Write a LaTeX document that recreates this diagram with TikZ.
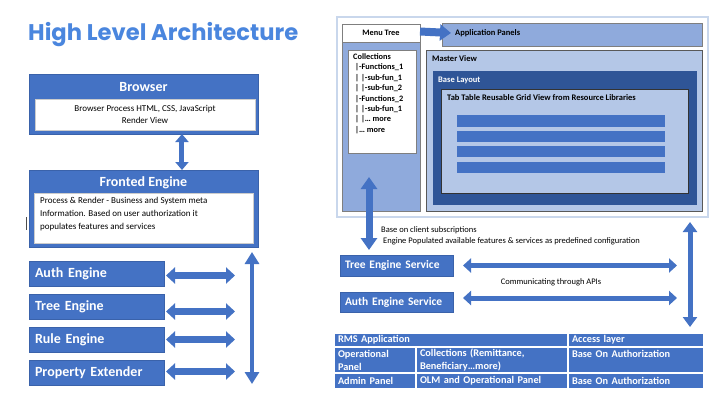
\documentclass[tikz,border=0pt]{standalone}
\usepackage{fontspec}
\setmainfont{Carlito}
\newfontfamily\titlefont{Poppins}
\usetikzlibrary{arrows.meta,calc}
\definecolor{mblue}{HTML}{4472C4}
\definecolor{mbluedk}{HTML}{3A62AA}
\definecolor{colblue}{HTML}{8FAADC}
\definecolor{lightblue}{HTML}{B4C7E7}
\definecolor{darkblue}{HTML}{2F5597}
\definecolor{titleblue}{HTML}{4A86DE}
\definecolor{framegray}{HTML}{C9D7EC}
\definecolor{edgegray}{HTML}{7F7F7F}
\tikzset{
  sz/.style 2 args={anchor=north west, inner sep=0pt, outer sep=0pt, minimum width=#1pt, minimum height=#2pt},
  bluebox/.style={fill=mblue, draw=mbluedk, line width=0.6pt},
  hdr/.style={inner sep=0pt, text=white, font=\bfseries\fontsize{14}{16}\selectfont},
  engbox/.style={anchor=north west, outer sep=0pt, fill=mblue, draw=mbluedk, line width=0.5pt, inner xsep=6pt, inner ysep=0pt, text width=123pt, minimum height=25pt, align=left, text=white, font=\bfseries\fontsize{14}{16}\selectfont},
  svcbox/.style={anchor=north west, outer sep=0pt, fill=mblue, draw=mbluedk, line width=0.5pt, inner xsep=5pt, inner ysep=0pt, text width=103pt, align=left, text=white, font=\bfseries\fontsize{11.5}{13}\selectfont},
  small/.style={inner sep=0pt, anchor=west, font=\bfseries\fontsize{8.5}{10}\selectfont},
  note/.style={inner sep=0pt, anchor=west, font=\fontsize{8.5}{10}\selectfont},
  cell/.style={anchor=north west, outer sep=0pt, fill=mblue, draw=white, line width=1.2pt, text=white, font=\bfseries\fontsize{10.3}{13}\selectfont, align=left, inner xsep=4pt, inner ysep=0pt},
  dbl/.style n args={3}{draw=mblue, line width=#1pt, {Triangle[width=#2pt,length=#3pt]}-{Triangle[width=#2pt,length=#3pt]}},
  sgl/.style n args={3}{draw=mblue, line width=#1pt, -{Triangle[width=#2pt,length=#3pt]}},
}
\begin{document}
\begin{tikzpicture}[x=1pt,y=-1pt]
\useasboundingbox[fill=white] (0,0) rectangle (720,405);

% ---------- title ----------
\node[anchor=west, inner sep=0pt, text=titleblue] (title) at (28,35)
  {\resizebox{270pt}{!}{\titlefont\bfseries\fontsize{26}{30}\selectfont High Level Architecture}};

% ---------- left side ----------
\node[sz={229}{60}, bluebox] (browser) at (29,74) {};
\node[hdr] (browserhdr) at (143.5,87) {Browser};
\node[sz={220}{31}, fill=white, draw=gray!40, align=center, font=\fontsize{9}{12}\selectfont] (browserbody) at (35,99)
  {Browser Process HTML, CSS, JavaScript\\Render View};

\node[sz={229}{77}, bluebox] (fronted) at (29,170) {};
\node[hdr] (frontedhdr) at (143.5,183) {Fronted Engine};
\node[sz={219}{50}, fill=white, draw=gray!40] (frontedbody) at (34,193) {};
\node[anchor=north west, inner sep=0pt, align=left, font=\fontsize{9}{13}\selectfont] (frontedtxt) at (40,197)
  {Process \& Render - Business and System meta\\Information. Based on user authorization it\\populates features and services};
\draw[black!70, line width=0.7pt] (26.5,217) -- (26.5,230);

\draw[dbl={5}{13}{8}] ($(browser.south west)!0.668!(browser.south east)$) -- ($(fronted.north west)!0.668!(fronted.north east)$);

\node[engbox] (auth) at (29,261) {Auth Engine};
\node[engbox] (tree) at (29,294) {Tree Engine};
\node[engbox] (rule) at (29,327) {Rule Engine};
\node[engbox] (prop) at (29,360) {Property Extender};

\coordinate (lhx) at (233,0);
\draw[dbl={7}{16}{9}] ([xshift=2pt,yshift=-2pt]auth.east) -- ([xshift=2pt,yshift=-2pt]auth.east -| lhx);
\draw[dbl={7}{16}{9}] ([xshift=2pt,yshift=-5pt]tree.east) -- ([xshift=2pt,yshift=-5pt]tree.east -| lhx);
\draw[dbl={7}{16}{9}] ([xshift=2pt]rule.east) -- ([xshift=2pt]rule.east -| lhx);
\draw[dbl={7}{16}{9}] ([xshift=2pt,yshift=1pt]prop.east) -- ([xshift=2pt,yshift=1pt]prop.east -| lhx);

\coordinate (lvtop) at (252,252);
\coordinate (lvbot) at (252,384);
\draw[dbl={4}{14}{12}] (lvtop) -- (lvbot);

% ---------- right side: UI mock ----------
\node[sz={371}{200}, fill=white, draw=framegray, line width=1.5pt] (frame) at (337,17) {};
\node[sz={78}{169}, fill=colblue, draw=edgegray, line width=0.5pt] (col) at (342,42) {};
\node[sz={78}{18}, fill=white, draw=edgegray, line width=0.5pt, font=\bfseries\fontsize{8.3}{9}\selectfont] (menutree) at (342,24) {Menu Tree};
\node[sz={68}{103}, fill=white, draw=edgegray, line width=0.5pt] (collbox) at (348,50) {};
\node[anchor=north west, inner sep=0pt, align=left, font=\bfseries\fontsize{8.3}{10.4}\selectfont] (colltxt) at (353,53.5)
  {Collections\\
   \hspace{2pt}|-Functions\_1\\
   \hspace{2pt}| |-sub-fun\_1\\
   \hspace{2pt}| |-sub-fun\_2\\
   \hspace{2pt}|-Functions\_2\\
   \hspace{2pt}| |-sub-fun\_1\\
   \hspace{2pt}| |… more\\
   \hspace{2pt}|… more};

\node[sz={260}{23}, fill=colblue, draw=edgegray, line width=0.6pt] (apppanels) at (442,23) {};
\node[small] (apptxt) at (455,33) {Application Panels};
\draw[sgl={8}{16}{11}] ([yshift=1.5pt]menutree.east) -- ([xshift=9pt,yshift=1.5pt]apppanels.west);

\node[sz={276}{161}, fill=lightblue, draw=edgegray!70!black, line width=0.6pt] (master) at (426,50) {};
\node[small] (mastertxt) at (432,59) {Master View};
\node[sz={264}{134}, fill=darkblue] (base) at (433,71) {};
\node[small, text=white] (basetxt) at (438,80) {Base Layout};
\node[sz={247}{104}, fill=lightblue, draw=black!80, line width=0.6pt] (tab) at (441,89) {};
\node[small] (tabtxt) at (447,98) {Tab Table Reusable Grid View from Resource Libraries};
\node[sz={208}{12}, fill=mblue] (bar1) at (457,115) {};
\node[sz={208}{11}, fill=mblue] (bar2) at (457,131) {};
\node[sz={208}{11}, fill=mblue] (bar3) at (457,146) {};
\node[sz={208}{11}, fill=mblue] (bar4) at (457,162) {};

% ---------- right side: services ----------
\coordinate (colup) at (369,177);
\coordinate (coldown) at (369,250);
\draw[dbl={7}{16}{12}] (colup) -- (coldown);

\node[note] (sub1) at (381,230) {Base on client subscriptions};
\node[note] (sub2) at (383,241) {Engine Populated available features \& services as predefined configuration};

\node[svcbox, minimum height=21pt] (treesvc) at (340,255) {Tree Engine Service};
\node[svcbox, minimum height=20pt] (authsvc) at (340,292) {Auth Engine Service};

\coordinate (rhx) at (667,0);
\draw[dbl={5}{14}{8}] ([xshift=10pt]treesvc.east) -- ([xshift=10pt]treesvc.east -| rhx);
\draw[dbl={5}{14}{8}] ([xshift=10pt,yshift=4pt]authsvc.east) -- ([xshift=10pt,yshift=4pt]authsvc.east -| rhx);
\node[inner sep=0pt, font=\fontsize{8.5}{10}\selectfont] (api) at (551,282) {Communicating through APIs};

\coordinate (rvtop) at (690,222);
\coordinate (rvbot) at (690,327);
\draw[dbl={5}{14}{10}] (rvtop) -- (rvbot);

% ---------- table ----------
\node[cell, text width=226pt, minimum height=14pt] (rms) at (334,333) {RMS Application};
\node[cell, text width=128pt, minimum height=14pt] (access) at (568,333) {Access layer};
\node[cell, text width=74pt, minimum height=26pt] (oppanel) at (334,347) {Operational\\Panel};
\node[cell, text width=144pt, minimum height=26pt] (collcell) at (416,347) {Collections (Remittance,\\Beneficiary…more)};
\node[cell, text width=128pt, minimum height=26pt] (auth1) at (568,347) {Base On Authorization\\\mbox{}};
\node[cell, text width=74pt, minimum height=16pt] (admin) at (334,373) {Admin Panel};
\node[cell, text width=144pt, minimum height=16pt] (olm) at (416,373) {OLM and Operational Panel};
\node[cell, text width=128pt, minimum height=16pt] (auth2) at (568,373) {Base On Authorization};
\end{tikzpicture}
\end{document}
